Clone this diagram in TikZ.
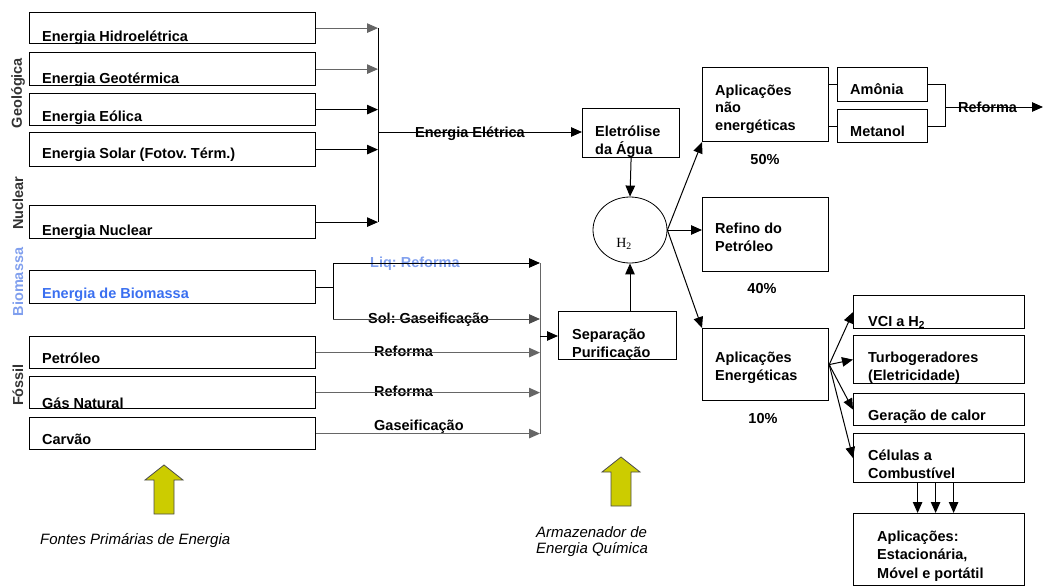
\documentclass[tikz,border=0pt]{standalone}
\usepackage{fontspec}
\setmainfont{Liberation Sans}
\newfontfamily\gasfont{Liberation Serif}
\usetikzlibrary{arrows.meta,shapes.geometric,positioning}
\definecolor{bioblue}{HTML}{3A6FF0}
\definecolor{liqblue}{HTML}{809FEE}
\definecolor{sidegray}{HTML}{333333}
\definecolor{olive}{HTML}{CCCC00}
\frenchspacing
\tikzset{
  srcbox/.style={draw, line width=1.2pt, anchor=north west, inner sep=0pt, minimum width=286pt},
  appbox/.style={draw, line width=1.2pt, anchor=north west, inner sep=0pt},
  txt/.style={anchor=base west, inner sep=0pt, align=left, font=\bfseries\fontsize{14.5}{17.5}\selectfont},
  itxt/.style={anchor=base west, inner sep=0pt, align=left, font=\itshape\fontsize{15}{16}\selectfont},
  side/.style={rotate=90, inner sep=0pt, text=sidegray, font=\bfseries\fontsize{14.5}{16}\selectfont},
  ln/.style={line width=1pt},
  arr/.style={line width=1pt, -{Triangle[length=11pt,width=9.5pt]}},
  yarrow/.pic={code={%
      \draw [fill=olive, draw=black!70, line width=0.8pt]
        (-19,15) -- (0,0) -- (19,15) -- (10,15) -- (10,49) -- (-10,49) -- (-10,15) -- cycle;
  }}
}
\begin{document}
\begin{tikzpicture}[x=1pt, y=-1pt]
    \useasboundingbox (0,0) rectangle (1044,586);

    % primary sources
    \node [srcbox, minimum height=31pt] (hidro) at (29,12) {};
    \node [srcbox, minimum height=33pt] (geo) at (29,52) {};
    \node [srcbox, minimum height=32pt] (eol) at (29,93) {};
    \node [srcbox, minimum height=34pt] (sol) at (29,132) {};
    \node [srcbox, minimum height=33pt] (nuc) at (29,205) {};
    \node [srcbox, minimum height=33pt] (bio) at (29,270) {};
    \node [srcbox, minimum height=32pt] (petr) at (29,336) {};
    \node [srcbox, minimum height=32pt] (gas) at (29,376) {};
    \node [srcbox, minimum height=32pt] (carv) at (29,417) {};

    % conversion and storage
    \node [appbox, minimum width=97pt, minimum height=49pt] (eletro) at (582,108) {};
    \node [appbox, minimum width=118pt, minimum height=48pt] (sep) at (558,311) {};
    \node [draw, ellipse, line width=0.8pt, minimum width=74pt, minimum height=66pt] (h2) at (630,230) {};

    % uses
    \node [appbox, minimum width=126pt, minimum height=74pt] (appne) at (702,67) {};
    \node [appbox, minimum width=90pt, minimum height=34pt] (amon) at (837,67) {};
    \node [appbox, minimum width=90pt, minimum height=33pt] (metan) at (837,109) {};
    \node [appbox, minimum width=126pt, minimum height=74pt] (refino) at (702,197) {};
    \node [appbox, minimum width=126pt, minimum height=72pt] (appe) at (702,328) {};
    \node [appbox, minimum width=171pt, minimum height=33pt] (vci) at (853,295) {};
    \node [appbox, minimum width=171pt, minimum height=48pt] (turbo) at (853,335) {};
    \node [appbox, minimum width=171pt, minimum height=32pt] (gera) at (853,393) {};
    \node [appbox, minimum width=171pt, minimum height=49pt] (cel) at (853,433) {};
    \node [appbox, minimum width=171pt, minimum height=72pt] (aplic) at (853,513) {};

    % junction points
    \coordinate (busE) at (378,132);
    \coordinate (bioUp) at (333,263);
    \coordinate (bioDn) at (333,319);
    \coordinate (busS) at (540,336);
    \coordinate (refJ) at (945,107);
    \coordinate (refEnd) at (1043,107);

    % add labels (multi-line: base is the last line)
    \node [txt] (thidro) at (42,42) {Energia Hidroelétrica};
    \node [txt] (tgeo) at (42,83) {Energia Geotérmica};
    \node [txt] (teol) at (42,121) {Energia Eólica};
    \node [txt] (tsol) at (42,158) {Energia Solar (Fotov. Térm.)};
    \node [txt] (tnuc) at (42,235) {Energia Nuclear};
    \node [txt, text=bioblue] (tbio) at (42,298) {Energia de Biomassa};
    \node [txt] (tpetr) at (42,363) {Petróleo};
    \node [txt] (tgas) at (42,408) {Gás Natural};
    \node [txt] (tcarv) at (42,444) {Carvão};

    \node [side] (sgeo) at (18,93) {Geológica};
    \node [side] (snuc) at (18,203) {Nuclear};
    \node [side, text=liqblue] (sbio) at (18,282) {Biomassa};
    \node [side] (sfos) at (18,385) {Fóssil};

    \node [txt] (telet) at (415,137) {Energia Elétrica};
    \node [txt, text=liqblue] (tliq) at (370,267) {Liq: Reforma};
    \node [txt] (tsolg) at (368,323) {Sol: Gaseificação};
    \node [txt] (tref1) at (374,356) {Reforma};
    \node [txt] (tref2) at (374,396) {Reforma};
    \node [txt] (tgasf) at (374,430) {Gaseificação};

    \node [txt] (teletro) at (595,154) {Eletrólise\\da Água};
    \node [txt] (tsep) at (572,357) {Separação\\Purificação};
    \node [inner sep=0pt, font=\gasfont\fontsize{14}{14}\selectfont] (th2) at (624,244) {H\textsubscript{2}};

    \node [txt] (tappne) at (715,130) {Aplicações\\não\\energéticas};
    \node [txt] (tamon) at (850,95) {Amônia};
    \node [txt] (tmetan) at (850,136) {Metanol};
    \node [txt] (tref3) at (958,112) {Reforma};
    \node [txt, anchor=base] (p50) at (765,164) {50\%};
    \node [txt] (trefino) at (715,251) {Refino do\\Petróleo};
    \node [txt, anchor=base] (p40) at (762,293) {40\%};
    \node [txt] (tappe) at (715,380) {Aplicações\\Energéticas};
    \node [txt, anchor=base] (p10) at (763,423) {10\%};
    \node [txt] (tvci) at (868,326) {VCI a H\textsubscript{2}};
    \node [txt] (tturbo) at (868,380) {Turbogeradores\\(Eletricidade)};
    \node [txt] (tgera) at (868,420) {Geração de calor};
    \node [txt] (tcel) at (868,478) {Células a\\Combustível};
    \node [txt, font=\bfseries\fontsize{14.5}{18.5}\selectfont] (taplic) at (877,578) {Aplicações:\\Estacionária,\\Móvel e portátil};

    \node [itxt] (tfontes) at (40,544) {Fontes Primárias de Energia};
    \node [itxt] (tarmaz) at (536,553) {Armazenador de\\Energia Química};

    % draw connectors
    \draw [arr, black!60] (hidro.east) -- (hidro.east -| busE);
    \draw [arr, black!60] (geo.east) -- (geo.east -| busE);
    \draw [arr] (eol.east) -- (eol.east -| busE);
    \draw [arr] (sol.east) -- (sol.east -| busE);
    \draw [arr] (nuc.east) -- (nuc.east -| busE);
    \draw [ln] (hidro.east -| busE) -- (nuc.east -| busE);
    \draw [arr] (busE) -- (busE -| eletro.west);

    \draw [ln] (bio.east) -- (bio.east -| bioUp);
    \draw [ln] (bioUp) -- (bioDn);
    \draw [arr] (bioUp) -- (bioUp -| busS);
    \draw [arr, black!70] (bioDn) -- (bioDn -| busS);
    \draw [arr, black!60] (petr.east) -- (petr.east -| busS);
    \draw [arr, black!60] (gas.east) -- (gas.east -| busS);
    \draw [arr, black!60] (carv.east) -- (carv.east -| busS);
    \draw [ln, black!60] (bioUp -| busS) -- (carv.east -| busS);
    \draw [arr] (busS) -- (busS -| sep.west);

    \draw [arr] (eletro.south) -- (h2.north);
    \draw [arr] (sep.north -| h2) -- (h2.south);
    \draw [arr] (h2.east) -- (appne.south west);
    \draw [arr] (h2.east) -- (h2.east -| refino.west);
    \draw [arr] (h2.east) -- (appe.north west);

    \draw [ln] (amon.west -| appne.east) -- (amon.west);
    \draw [ln] (metan.west -| appne.east) -- (metan.west);
    \draw [ln] (amon.east) -- (amon.east -| refJ) -- (metan.east -| refJ) -- (metan.east);
    \draw [arr] (refJ) -- (refEnd);

    \foreach \t in {vci,turbo,gera,cel}
      \draw [arr] (appe.east) -- (\t.west);
    \foreach \dx in {-21.5,-3.5,14.5}
      \draw [arr] ([xshift=\dx pt]cel.south) -- ([xshift=\dx pt]aplic.north);

    % storage arrows
    \path (164,465) pic {yarrow};
    \path (621,457) pic {yarrow};
\end{tikzpicture}
\end{document}
